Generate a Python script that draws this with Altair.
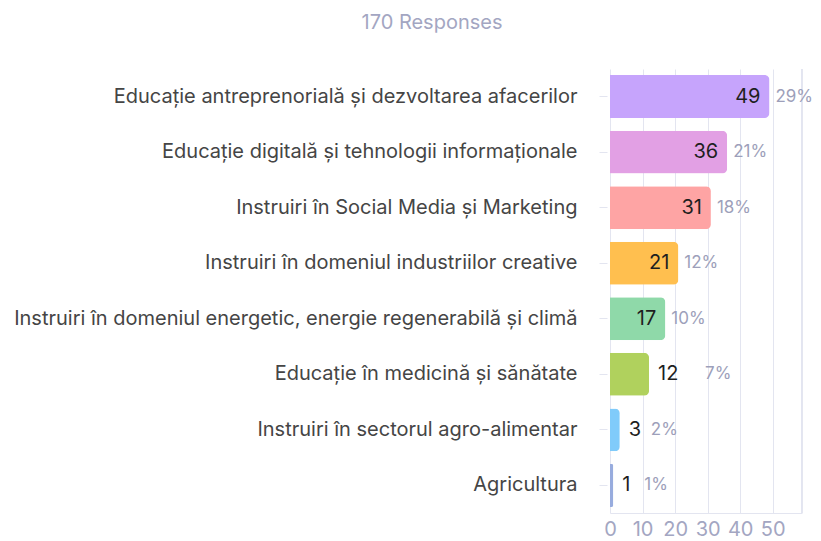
import altair as alt
import pandas as pd

categories = [
    "Educație antreprenorială și dezvoltarea afacerilor",
    "Educație digitală și tehnologii informaționale",
    "Instruiri în Social Media și Marketing",
    "Instruiri în domeniul industriilor creative",
    "Instruiri în domeniul energetic, energie regenerabilă și climă",
    "Educație în medicină și sănătate",
    "Instruiri în sectorul agro-alimentar",
    "Agricultura",
]
counts = [49, 36, 31, 21, 17, 12, 3, 1]
percents = ["29%", "21%", "18%", "12%", "10%", "7%", "2%", "1%"]
colors = ["#c6a4fc", "#e2a0e4", "#fea4a4", "#ffbf4f", "#8fd9a9", "#b0d15d", "#80cbfa", "#98acde"]
x_ticks = [0, 10, 20, 30, 40, 50]
x_max = 59
title_text = "170 Responses"

PX_PER_UNIT = 192 / x_max
INSIDE_MIN = 15

df = pd.DataFrame({"cat": categories, "count": counts, "pct": percents})
df["inside"] = df["count"] >= INSIDE_MIN
df["label"] = df["count"].astype(str)
# percent label anchor: bar end, or after the outside count label
df["pct_x"] = [
    c if c >= INSIDE_MIN else c + (25 * len(str(c))) / PX_PER_UNIT for c in counts
]

FONT = "Inter"
GRID = "#e3e5f0"
FS = 20

y_enc = alt.Y(
    "cat:N",
    sort=categories,
    title=None,
    scale=alt.Scale(paddingInner=0.227, paddingOuter=0.11),
)

x_scale = alt.Scale(domain=[0, x_max], nice=False)
x_axis = alt.Axis(values=x_ticks, labelOverlap=False, title=None)

base = alt.Chart(df)

bars = base.mark_bar(cornerRadiusEnd=5).encode(
    x=alt.X("count:Q", scale=x_scale, axis=x_axis),
    y=y_enc,
    color=alt.Color("cat:N", scale=alt.Scale(domain=categories, range=colors), legend=None),
)

edge = alt.Chart(df).mark_rule(color=GRID).encode(x=alt.X(datum=x_max, axis=x_axis))

inside = base.transform_filter("datum.inside").mark_text(
    align="right", dx=-9, font=FONT, fontSize=FS, color="#1f1f1f"
).encode(x=alt.X("count:Q", axis=x_axis), y=y_enc, text="label:N")

outside = base.transform_filter("!datum.inside").mark_text(
    align="left", dx=9, font=FONT, fontSize=FS, color="#1f1f1f"
).encode(x=alt.X("count:Q", axis=x_axis), y=y_enc, text="label:N")

pct = base.mark_text(
    align="left", dx=6, font=FONT, fontSize=17, color="#9d9fba"
).encode(x=alt.X("pct_x:Q", axis=x_axis), y=y_enc, text="pct:N")

chart = (
    alt.layer(bars, edge, inside, outside, pct)
    .properties(
        width=192,
        height=444,
        autosize=alt.AutoSizeParams(type="none"),
        padding={"left": 602, "top": 61, "right": 11, "bottom": 26},
        title=alt.TitleParams(
            title_text,
            anchor="middle",
            dx=-274,
            offset=36,
            font=FONT,
            fontSize=FS,
            fontWeight="normal",
            color="#a3a6c2",
        ),
    )
    .configure_view(stroke=None)
    .configure_axisX(
        labelFont=FONT,
        labelFontSize=FS,
        labelColor="#a3a6c2",
        labelOverlap=False,
        labelBound=False,
        labelFlush=False,
        tickCount=6,
        ticks=False,
        labelPadding=6,
        domainColor=GRID,
        gridColor=GRID,
        title=None,
    )
    .configure_axisY(
        labelFont=FONT,
        labelFontSize=FS,
        labelColor="#454545",
        labelPadding=22,
        tickColor=GRID,
        tickSize=8,
        offset=3,
        domain=False,
        grid=False,
        labelLimit=700,
        title=None,
    )
)

chart.save("out.html", embed_options={"renderer": "svg", "actions": False})
